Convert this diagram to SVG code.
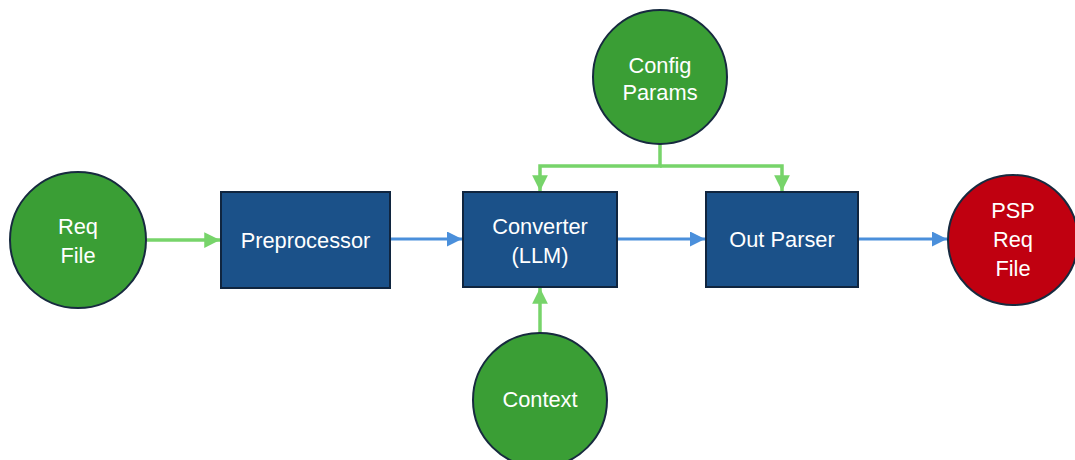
<svg xmlns="http://www.w3.org/2000/svg" width="1075" height="460" viewBox="0 0 1075 460">
<defs>
<style>
.t{font-family:"Liberation Sans","Open Sans",Arial,sans-serif;font-size:21.8px;fill:#ffffff;text-anchor:middle;dominant-baseline:central}
.g{fill:#3a9e35;stroke:#172a3f;stroke-width:2}
.r{fill:#c00010;stroke:#172a3f;stroke-width:2}
.b{fill:#1b5189;stroke:#10253f;stroke-width:2}
.cg{fill:none;stroke:#77d46a;stroke-width:3.5}
.cb{fill:none;stroke:#4a8fdb;stroke-width:3}
</style>
<marker id="ag" viewBox="0 0 10 10" refX="10" refY="5" markerWidth="4.5" markerHeight="4.5" orient="auto" markerUnits="strokeWidth"><path d="M0,0 L10,5 L0,10 z" fill="#77d46a"/></marker>
<marker id="ab" viewBox="0 0 10 10" refX="10" refY="5" markerWidth="5" markerHeight="5" orient="auto" markerUnits="strokeWidth"><path d="M0,0 L10,5 L0,10 z" fill="#4a8fdb"/></marker>
</defs>
<rect width="1075" height="460" fill="#ffffff"/>
<g id="connectors">
<line class="cg" x1="147" y1="240" x2="220" y2="240" marker-end="url(#ag)"/>
<line class="cb" x1="390" y1="239" x2="462" y2="239" marker-end="url(#ab)"/>
<line class="cb" x1="617" y1="239" x2="705" y2="239" marker-end="url(#ab)"/>
<line class="cb" x1="858" y1="239" x2="947" y2="239" marker-end="url(#ab)"/>
<polyline class="cg" points="660,144 660,166 540,166 540,191" marker-end="url(#ag)"/>
<polyline class="cg" points="660,166 782,166 782,191" marker-end="url(#ag)"/>
<line class="cg" x1="540" y1="333" x2="540" y2="288" marker-end="url(#ag)"/>
</g>
<g id="req-file">
<circle class="g" cx="78" cy="240" r="68"/>
<text class="t" x="78" y="226">Req</text>
<text class="t" x="78" y="255">File</text>
</g>
<g id="preprocessor">
<rect class="b" x="221" y="192" width="169" height="96"/>
<text class="t" x="305.5" y="240">Preprocessor</text>
</g>
<g id="converter">
<rect class="b" x="463" y="192" width="154" height="95"/>
<text class="t" x="540" y="226">Converter</text>
<text class="t" x="540" y="255">(LLM)</text>
</g>
<g id="out-parser">
<rect class="b" x="706" y="192" width="152" height="95"/>
<text class="t" x="782" y="239">Out Parser</text>
</g>
<g id="psp-req-file">
<circle class="r" cx="1013" cy="240" r="65"/>
<text class="t" x="1013" y="210">PSP</text>
<text class="t" x="1013" y="239">Req</text>
<text class="t" x="1013" y="268">File</text>
</g>
<g id="config-params">
<circle class="g" cx="660" cy="77" r="67"/>
<text class="t" x="660" y="65">Config</text>
<text class="t" x="660" y="92">Params</text>
</g>
<g id="context">
<circle class="g" cx="540" cy="400" r="67"/>
<text class="t" x="540" y="399">Context</text>
</g>
</svg>
